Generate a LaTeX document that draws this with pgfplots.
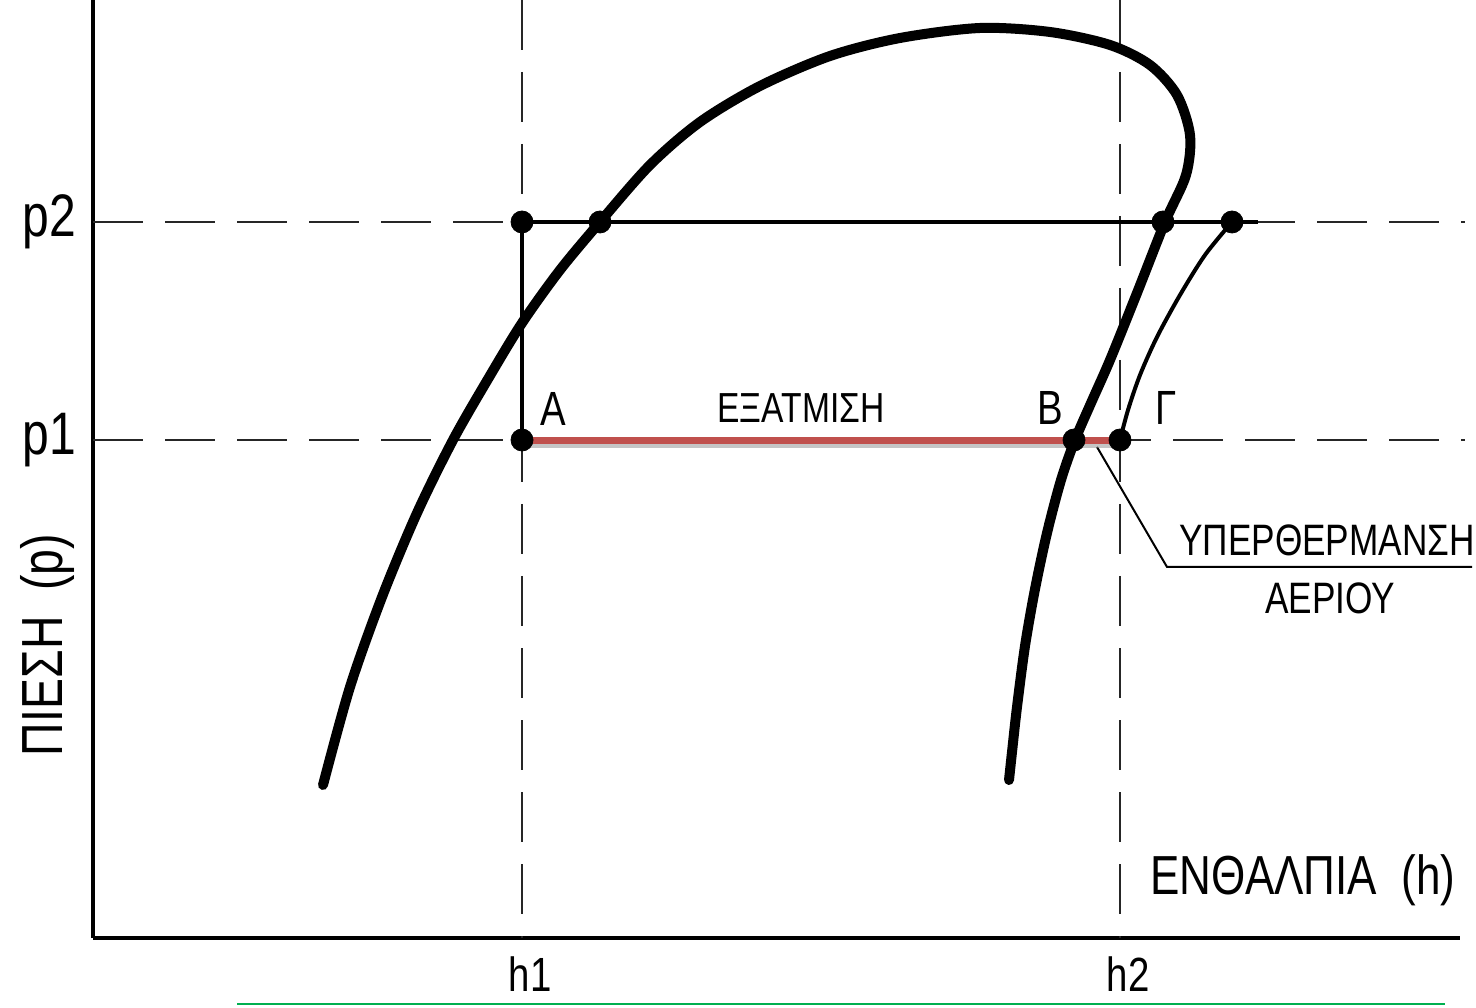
\documentclass[border=0pt]{standalone}
\usepackage{fontspec}
\setmainfont{Liberation Sans}[FakeStretch=0.8]
\usepackage{pgfplots}
\pgfplotsset{compat=1.18}
\definecolor{redline}{RGB}{192,80,77}
\definecolor{greenline}{RGB}{0,176,80}
\begin{document}
\begin{tikzpicture}
\begin{axis}[
  x=0.5pt, y=0.5pt,
  xmin=93, xmax=1460, ymin=69, ymax=1007,
  axis x line=bottom, axis y line=left,
  axis line style={-, line width=1.8pt, black},
  xtick={522,1120}, xticklabels={h1,h2},
  ytick={567,785}, yticklabels={p1,p2},
  major tick length=0pt,
  xticklabel style={font=\fontsize{24}{28}\selectfont, yshift=-6pt, xshift=4pt},
  yticklabel style={font=\fontsize{30}{34}\selectfont, xshift=-5pt},
  clip=false,
]
% bounding helpers
\coordinate (BL) at (axis cs:0,0);
\coordinate (TR) at (axis cs:1476,1007);
% dashed guide lines
\addplot[black!85, line width=1.3pt, dash pattern=on 25pt off 11pt] coordinates {(93,785) (1465,785)};
\addplot[black!85, line width=1.3pt, dash pattern=on 25pt off 11pt] coordinates {(93,567) (1465,567)};
\addplot[black!85, line width=1.3pt, dash pattern=on 25pt off 11pt] coordinates {(522,1007) (522,69)};
\addplot[black!85, line width=1.3pt, dash pattern=on 25pt off 11pt] coordinates {(1120,1007) (1120,69)};
% saturation dome
\addplot[black, line width=5pt, smooth, line cap=round, tension=0.5] coordinates {
(323,222) (350,320) (382,410) (417,494) (453,567) (488,628) (522,684) (560,737)
(600,785) (650,842) (700,885) (760,921) (830,951) (900,969) (980,979) (1050,975)
(1110,962) (1150,942) (1177,912) (1190,872) (1186,832) (1165,785) (1137,714)
(1110,647) (1091,604) (1075,567) (1061,527) (1047,474) (1035,418) (1025,361)
(1017,300) (1012,255) (1009,227)
};
% superheated line
\addplot[black, line width=2pt, smooth] coordinates {
(1120,567) (1128,597) (1140,632) (1157,670) (1180,712) (1205,752) (1232,785)
};
% p2 solid line and vertical expansion line
\addplot[black, line width=2pt] coordinates {(522,785) (1258,785)};
\addplot[black, line width=2pt] coordinates {(522,785) (522,567)};
% leader line
\addplot[black, line width=1pt] coordinates {(1097,560) (1167,440) (1472,440)};
% points
\addplot[only marks, mark=*, mark size=5.5pt, black] coordinates {
(522,785) (600,785) (1163,785) (1232,785) (522,567) (1074,567) (1120,567)
};
% evaporation line (red) with shadow
\addplot[black!45, opacity=0.5, line width=3pt] coordinates {(524,562) (1124,562)};
\addplot[redline, line width=3.5pt] coordinates {(522,566) (1122,566)};
% green line at the bottom
\addplot[greenline, line width=1pt] coordinates {(237,3) (1445,3)};
% labels
\node[font=\fontsize{24}{28}\selectfont] at (axis cs:553,598) {Α};
\node[font=\fontsize{24}{28}\selectfont] at (axis cs:1050,599) {Β};
\node[font=\fontsize{24}{28}\selectfont] at (axis cs:1166,599) {Γ};
\node[font=\fontsize{21}{25}\selectfont] at (axis cs:801,599) {ΕΞΑΤΜΙΣΗ};
\node[font=\fontsize{22}{26}\selectfont] at (axis cs:1327,467) {ΥΠΕΡΘΕΡΜΑΝΣΗ};
\node[font=\fontsize{22}{26}\selectfont] at (axis cs:1330,409) {ΑΕΡΙΟΥ};
\node[font=\fontsize{27.5}{31}\selectfont] at (axis cs:1303,127) {ΕΝΘΑΛΠΙΑ\ \ (h)};
\node[font=\fontsize{29}{33}\selectfont, rotate=90] at (axis cs:48,362) {ΠΙΕΣΗ\ \ (p)};
\end{axis}
\pgfresetboundingbox
\path[use as bounding box] (BL) rectangle (TR);
\end{tikzpicture}
\end{document}
